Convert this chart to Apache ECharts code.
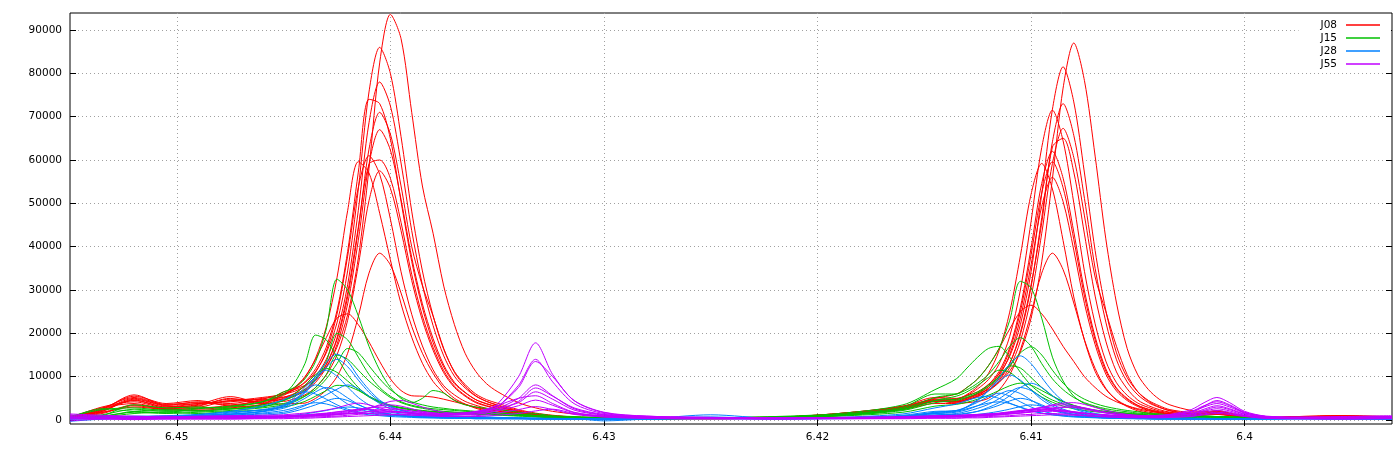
<!DOCTYPE html>
<html><head><meta charset="utf-8">
<script src="https://cdn.jsdelivr.net/npm/echarts@6/dist/echarts.min.js"></script>
<style>html,body{margin:0;padding:0;background:#fff}#c{width:1400px;height:450px}</style>
</head><body><div id="c"></div>
<script>
// shared chemical-shift grid (ppm), left to right as drawn
const ppm = [6.4550, 6.4535, 6.4520, 6.4505, 6.4490, 6.4475, 6.4460,
  6.4450, 6.4445, 6.4440, 6.4435, 6.4430, 6.4425, 6.4420, 6.4415, 6.4410, 6.4405, 6.4400, 6.4395, 6.4390, 6.4385, 6.4380, 6.4375, 6.4370, 6.4365, 6.4360, 6.4355, 6.4350,
  6.4340, 6.4332, 6.4324, 6.4314, 6.4300, 6.4280, 6.4250, 6.4220, 6.4190, 6.4160, 6.4145,
  6.4135, 6.4130, 6.4125, 6.4120, 6.4115, 6.4110, 6.4105, 6.4100, 6.4095, 6.4090, 6.4085, 6.4080, 6.4075, 6.4070, 6.4065, 6.4060, 6.4055, 6.4050, 6.4045, 6.4040, 6.4035,
  6.4025, 6.4019, 6.4013, 6.4007, 6.4000, 6.3990, 6.3975, 6.3955, 6.3931];
const xTicks = [6.40, 6.41, 6.42, 6.43, 6.44, 6.45];
const yTicks = [0, 10000, 20000, 30000, 40000, 50000, 60000, 70000, 80000, 90000];
const legendNames = ['J08', 'J15', 'J28', 'J55'];

// J08 (red)
const J08_1 = [600,2500,5500,3800,4500,3200,4800,
  6100,7000,8000,9400,12200,16800,24300,37400,58000,82400,93600,88000,71000,54000,43100,30900,22000,15400,11200,8400,6600,
  4000,2800,2000,1400,900,600,400,500,1300,2600,4300,
  4800,5200,6100,7000,8700,11300,15700,23500,36500,55700,76600,87000,78300,60900,41800,27000,16500,10400,7000,4800,3500,
  2200,2000,2000,1500,900,600,800,1000,700];
const J08_2 = [800,2000,4800,3200,3000,4500,4200,
  6500,7300,8600,11200,15500,22400,34400,53300,75700,86000,80000,65400,48200,34400,24100,16300,11200,8200,6000,4700,3900,
  2400,1600,1100,700,500,300,400,600,1400,3000,4800,
  4900,5700,6500,8200,10600,14700,22000,34200,52200,71700,81500,73400,57000,39100,25300,15500,9800,6500,4500,3300,2400,
  1800,1800,2200,1600,800,500,700,900,600];
const J08_3 = [500,3000,4200,2800,3600,5400,4000,
  5900,6600,7800,10100,14000,20300,31200,48400,68600,78000,72500,59300,43700,31200,21800,14800,10100,7400,5500,4300,3500,
  2200,1400,1000,700,500,300,500,700,1200,2800,4500,
  4400,5100,5800,7300,9500,13100,19700,30700,46700,64200,73000,65700,51100,35000,22600,13900,8800,5800,4000,2900,2200,
  1500,1600,1900,1500,700,500,600,800,700];
const J08_4 = [700,1500,3500,2600,2500,3000,3600,
  6100,7000,8800,11800,16800,25200,38900,57200,74000,73000,64900,50400,36600,25900,17900,12200,8400,6300,4700,3800,3100,
  2000,1300,900,600,400,300,400,600,1500,3200,5200,
  5000,5700,7200,9300,12900,19300,30000,45800,62900,71500,64400,50100,34300,22200,13600,8600,5700,3900,2900,2100,1700,
  1300,1500,1700,1300,800,600,800,1000,800];
const J08_5 = [400,2200,5000,3400,4200,3800,5000,
  5300,6000,7100,9200,12800,18500,28400,44000,62500,71000,66000,54000,40000,31000,24000,16500,11000,7800,5600,4300,3400,
  2000,1300,800,600,400,300,300,500,1300,2700,4300,
  4200,4700,5400,6700,8700,12100,18200,28300,43100,59200,67300,60600,47100,33000,25000,17000,10500,6500,4300,3000,2100,
  1400,1500,1600,1200,700,400,600,800,600];
const J08_6 = [900,1800,3000,2400,2200,2800,3500,
  5000,5700,6700,8700,12100,17400,26800,41500,59000,67000,62300,50900,37500,26800,18800,12700,8700,6400,4700,3700,3000,
  1900,1200,800,500,400,300,400,600,1500,3000,4600,
  4100,4700,5500,6800,9100,13000,20200,31200,45500,63000,65000,57200,42900,28600,18200,11100,7200,4600,3300,2400,1800,
  1300,1400,1600,1300,800,500,700,900,700];
const J08_7 = [500,2700,5200,3600,4000,3500,4500,
  5200,6100,7900,11000,15900,24400,37800,53700,61000,56700,46400,34200,24400,17100,11600,7900,5800,4300,3400,2700,2300,
  1500,1000,700,500,300,300,400,500,1300,2800,4600,
  4700,5900,7700,10700,16000,24900,37900,52100,59200,53300,41400,28400,18400,11200,7100,4700,3300,2400,1800,1500,1300,
  1100,1300,1500,1200,600,500,600,700,600];
const J08_8 = [700,2300,4500,3000,3400,4800,4600,
  4800,5500,6700,9200,12800,18900,29300,44500,59000,60000,55800,45600,33600,24000,16800,11400,7800,5700,4200,3300,2700,
  1700,1100,700,500,400,300,300,500,1200,2600,4400,
  4200,4800,6000,7700,10700,16100,25000,38100,52400,59600,53600,41700,28600,18500,11300,7200,4800,3300,2400,1800,1400,
  1200,1400,1700,1400,700,500,700,900,600];
const J08_9 = [600,2800,3800,2600,3200,5000,3800,
  5700,7200,9800,14300,21500,32800,48300,59600,57000,47700,37000,26800,19100,13100,8900,6300,4600,3600,2900,2400,2100,
  1400,900,600,400,300,300,300,500,1200,2700,4500,
  4300,5000,6200,8100,11200,16700,26000,39700,54600,62000,55800,43400,29800,19200,11800,7400,5000,3400,2500,1900,1500,
  1100,1300,1400,1100,600,500,600,800,600];
const J08_10 = [400,2000,4600,3000,3800,4200,4800,
  4300,4900,5800,7500,10400,15000,23000,35700,50600,57500,53500,43700,32200,23000,16100,10900,7500,5500,4000,3200,2600,
  1600,1000,700,500,400,300,400,500,1400,2800,4500,
  3900,4500,5600,7300,10100,15100,23500,35800,49300,56000,50400,39200,26900,17400,10600,6700,4500,3100,2200,1700,1300,
  1100,1300,1500,1200,700,500,600,800,600];
const J08_11 = [500,1700,3300,2500,2700,3300,3800,
  3700,3800,3900,5000,6900,10000,15400,23900,33900,38500,35800,29300,21600,15400,10800,7300,5000,3700,2700,2100,1700,
  1200,800,600,400,300,300,300,500,1100,2400,3800,
  3800,4000,4300,5000,6900,10400,16200,24600,33900,38500,34700,27000,18500,11900,7300,4600,3100,2100,1500,1200,1000,
  900,1100,1300,1000,600,400,600,700,500];
const J08_12 = [600,2400,5800,3400,3800,4400,5200,
  6000,7500,10000,14000,19000,23500,24500,22000,18000,13500,9500,6800,5600,5500,5300,4800,4200,3600,3000,2500,2100,
  1400,900,600,400,300,300,400,600,1500,3200,5000,
  6000,7500,9500,12500,16500,21000,25000,26500,24500,21000,17000,13500,10000,7500,5500,4200,3300,2600,2100,1700,1400,
  1100,1200,1300,1100,700,500,700,900,600];

// J15 (green)
const J15_1 = [800,2400,2800,2200,2800,3000,4200,
  6500,7500,9500,13500,21000,32500,30000,24000,17000,11500,7500,5000,4000,5000,6800,6200,4500,3500,3000,2700,2500,
  1800,1500,1000,800,600,400,500,700,1300,3000,6000,
  6000,7500,9500,12500,16500,23000,32000,30500,23500,14500,9000,5500,3800,3000,2300,1800,1500,1300,1100,1000,900,
  800,800,800,700,600,500,500,600,500];
const J15_2 = [500,1200,2500,2000,2200,2500,3500,
  4500,5500,7000,9500,13500,20000,18500,14500,10500,7500,5500,4200,3400,2900,2600,2400,2200,2000,1900,1800,1700,
  1400,1100,800,600,500,400,400,600,1100,2700,5200,
  6000,7000,8500,10500,13500,17000,19000,17000,13000,9500,7000,5200,4000,3200,2600,2200,1900,1600,1400,1200,1100,
  900,900,800,700,600,500,500,600,500];
const J15_3 = [600,2600,2000,1800,2600,3200,4200,
  6000,8500,13000,19600,18500,14500,10500,7500,5500,4200,3400,2900,2500,2200,2000,1900,1800,1700,1600,1500,1400,
  1200,1000,800,600,500,400,500,800,1500,3500,7000,
  9500,12000,14500,16500,17000,14500,11000,8000,6000,4600,3700,3000,2600,2300,2000,1800,1600,1400,1200,1100,1000,
  900,800,800,700,600,500,600,500,500];
const J15_4 = [400,1000,3500,2800,3000,2600,3200,
  3800,4500,5500,7000,9500,13000,16500,15500,12500,9500,7000,5300,4200,3500,3000,2700,2400,2200,2000,1800,1700,
  1300,1000,700,500,400,300,400,500,1000,2400,4500,
  4800,5500,6500,8000,10000,12500,15500,16900,15000,11500,8500,6300,4800,3800,3100,2600,2200,1900,1600,1400,1200,
  900,900,800,700,600,500,500,600,500];
const J15_5 = [500,900,2000,2400,2000,2600,3000,
  4500,6000,8000,10500,11900,11000,9000,7000,5300,4000,3200,2700,2300,2000,1800,1700,1600,1500,1400,1300,1200,
  1000,800,600,500,400,300,500,700,1200,2500,4500,
  5500,6500,8000,9800,11500,11000,9000,7000,5300,4100,3200,2600,2200,1900,1700,1500,1300,1200,1000,900,800,
  700,700,600,500,400,500,500,500,400];
const J15_6 = [300,800,1800,1500,1800,2200,2800,
  3500,4200,5500,7500,10500,15000,14000,11500,9000,7000,5200,4000,3200,2700,2300,2000,1800,1600,1500,1400,1300,
  1100,900,700,500,400,300,400,600,1000,2200,4000,
  4500,5200,6200,7700,9800,12500,12000,9800,7500,5600,4200,3300,2700,2200,1900,1600,1400,1200,1000,900,800,
  700,700,600,500,400,500,500,500,400];
const J15_7 = [400,700,1500,1800,1500,2000,2300,
  3000,3500,4300,5500,6800,8000,7800,6800,5500,4300,3400,2800,2400,2100,1900,1700,1500,1400,1300,1200,1100,
  900,700,500,400,300,300,400,500,900,1800,3200,
  3600,4100,4800,5700,6800,7900,8500,8000,6800,5500,4300,3400,2700,2200,1800,1500,1300,1100,900,800,700,
  600,600,500,500,400,400,500,500,400];

// J28 (blue)
const J28_1 = [300,600,800,900,1100,1400,2000,
  3300,4700,6800,10000,13300,15200,13500,10000,7000,4600,3200,2300,1700,1400,1200,1000,900,800,700,600,600,
  500,400,300,300,300,400,700,300,400,900,1800,
  2200,3000,4500,6700,9700,12900,14800,13000,9800,6700,4400,3000,2100,1500,1200,900,700,600,500,500,400,
  400,400,300,300,300,300,400,300,400];
const J28_2 = [500,700,600,800,1000,1600,2300,
  3000,4300,6300,9200,12200,14000,12300,9200,6400,4300,3000,2200,1700,1400,1200,1000,900,800,700,700,600,
  500,400,400,300,300,300,500,400,500,1100,2000,
  2100,3100,4700,6800,9000,10400,9200,6900,4700,3200,2200,1600,1200,1000,800,700,600,500,500,400,400,
  400,300,300,300,300,300,400,300,300];
const J28_3 = [400,500,900,700,1200,1800,2400,
  3500,5200,7500,10000,11500,10100,7600,5200,3500,2500,1800,1400,1200,1000,900,800,700,600,600,500,500,
  400,400,300,300,200,300,400,300,500,900,1500,
  1200,1500,2000,2900,4000,5600,7500,8500,7500,5600,3800,2600,1800,1300,1000,800,700,600,500,400,400,
  300,300,300,300,200,300,400,300,300];
const J28_4 = [300,400,600,800,900,1300,2000,
  3200,4500,6400,8100,7200,5400,3700,2600,1900,1500,1200,1000,900,800,700,600,600,500,500,400,400,
  400,300,300,200,200,300,1200,400,400,900,1700,
  2200,3000,4100,5400,6200,5500,4200,3000,2100,1500,1100,900,700,600,500,500,400,400,300,300,300,
  300,200,200,300,300,300,300,400,300];
const J28_5 = [200,400,500,600,700,1000,1400,
  1800,2400,3300,4500,5800,7100,8100,7200,5500,3800,2600,1900,1500,1200,1000,900,800,700,600,600,500,
  400,400,300,300,300,300,400,400,500,800,1200,
  1500,2000,2700,3600,4900,6500,7500,6800,5200,3600,2500,1800,1300,1000,800,700,600,500,400,400,300,
  300,300,300,200,300,300,400,300,300];
const J28_6 = [500,600,800,1000,1300,2000,3200,
  4700,5800,6500,6000,4800,3500,2500,1900,1500,1200,1000,900,800,700,600,600,500,500,400,400,400,
  300,300,300,200,300,300,500,300,600,1400,2800,
  3700,4500,5200,5500,5000,3900,2900,2100,1600,1200,1000,800,700,600,500,400,400,300,300,300,300,
  300,300,300,200,200,300,300,300,200];
const J28_7 = [300,500,700,700,900,1300,1900,
  2700,3700,5000,6500,7500,6700,5100,3600,2500,1800,1400,1100,900,800,700,600,600,500,500,400,400,
  400,300,300,300,300,300,600,300,500,900,1500,
  1800,2400,3300,4500,5900,6800,6100,4600,3200,2200,1600,1200,900,700,600,500,400,400,300,300,300,
  300,300,300,300,200,300,300,300,300];
const J28_8 = [200,300,400,500,600,800,1100,
  1500,2000,2700,3500,4400,5000,4500,3500,2500,1800,1300,1000,800,700,600,500,500,400,400,400,300,
  300,300,200,200,200,300,400,300,400,700,1100,
  1300,1600,2000,2600,3400,4400,5000,4500,3500,2500,1800,1300,1000,800,600,500,400,400,300,300,300,
  200,300,200,200,200,300,300,200,200];
const J28_9 = [400,300,500,600,800,1100,1600,
  2200,2800,3500,4000,3700,3000,2200,1600,1200,1000,800,700,600,500,500,400,400,400,300,300,300,
  300,200,200,300,-200,200,300,300,400,800,1500,
  2000,2600,3300,3900,4200,3800,3000,2200,1600,1200,900,700,600,500,400,400,300,300,300,200,200,
  200,200,200,200,300,200,300,200,200];
const J28_10 = [-300,200,300,300,400,500,700,
  900,1100,1400,1800,2200,2700,3000,2800,2300,1700,1300,1000,800,600,500,500,400,400,300,300,300,
  300,200,200,200,200,200,300,200,300,500,800,
  900,1100,1300,1600,2000,2500,3100,3500,3200,2500,1800,1300,900,700,500,400,400,300,300,200,200,
  200,200,200,200,200,200,300,200,200];

// J55 (purple)
const J55_1 = [1000,700,500,600,800,600,700,
  800,900,1000,1200,1400,1600,1900,2300,2800,3300,3500,3200,2600,2000,1700,1500,1500,1600,1900,2500,3600,
  10000,17800,10500,4500,1700,900,600,500,600,800,1000,
  1100,1200,1300,1400,1500,1700,1900,2200,2500,2800,3000,2900,2500,2000,1600,1300,1100,1000,1000,1100,1300,
  2400,4000,5200,4000,2000,900,700,800,1000];
const J55_2 = [600,500,700,900,600,500,600,
  700,800,900,1000,1200,1400,1700,2100,2700,3500,4300,4500,3900,3000,2300,1800,1600,1600,1800,2300,3000,
  8000,14000,8800,3800,1500,800,500,400,500,700,900,
  1000,1100,1200,1300,1500,1700,2000,2400,2900,3500,3900,4000,3600,2900,2200,1700,1300,1100,1000,1000,1200,
  2000,3300,4200,3300,1700,800,600,700,800];
const J55_3 = [1200,900,700,500,700,900,800,
  900,1000,1100,1300,1500,1800,2100,2400,2500,2300,2000,1700,1500,1300,1200,1200,1300,1400,1700,2200,3000,
  7500,13500,10000,4500,1800,900,600,500,600,700,900,
  1000,1100,1200,1400,1600,1900,2200,2400,2500,2400,2100,1800,1500,1300,1200,1100,1000,900,900,1000,1200,
  1800,3000,3800,3000,1600,800,600,600,700];
const J55_4 = [500,400,600,700,500,700,900,
  1000,1100,1200,1400,1600,1900,2200,2500,2800,3000,2800,2400,2000,1700,1500,1400,1400,1500,1700,2000,2600,
  5000,8100,5600,2600,1200,700,500,400,500,600,800,
  900,1000,1100,1300,1500,1800,2100,2500,2900,3300,3500,3300,2800,2200,1700,1300,1100,1000,900,900,1000,
  1500,2500,3300,2600,1400,700,500,600,700];
const J55_5 = [800,600,400,500,700,800,600,
  700,800,900,1000,1100,1300,1500,1700,1900,2000,2000,1900,1700,1500,1300,1200,1200,1300,1400,1700,2200,
  4300,7400,5500,2800,1300,700,500,400,500,600,700,
  800,900,1000,1100,1200,1400,1600,1800,2000,2000,1900,1700,1500,1300,1100,1000,900,900,900,900,1000,
  1400,2200,3000,2400,1300,700,500,500,600];
const J55_6 = [1400,1100,900,700,900,1000,1100,
  1200,1400,1600,1900,2300,2800,3500,3900,3500,2800,2200,1800,1600,1500,1400,1400,1500,1700,2000,2500,3300,
  5000,5600,3800,1800,900,600,400,400,400,600,700,
  800,900,1000,1200,1400,1700,2100,2500,2800,2700,2300,1900,1600,1300,1100,1000,900,800,800,900,1000,
  1300,2000,2600,2100,1100,600,500,500,600];
const J55_7 = [300,400,300,400,500,400,500,
  600,700,800,900,1000,1200,1400,1700,2000,2300,2500,2400,2100,1800,1500,1300,1200,1200,1300,1600,2100,
  3300,4600,3400,1700,900,500,400,300,400,500,600,
  700,800,900,1000,1200,1400,1600,1900,2100,2200,2100,1900,1600,1300,1100,900,800,700,700,700,800,
  1100,1700,2200,1800,1000,500,400,400,500];
const J55_8 = [200,300,200,300,300,300,400,
  500,500,600,700,800,900,1100,1300,1500,1700,1800,1700,1500,1300,1100,1000,900,900,1000,1200,1600,
  2400,3100,2400,1300,700,400,300,300,300,400,500,
  500,600,700,800,900,1000,1200,1300,1500,1500,1400,1300,1100,900,800,700,600,600,600,600,700,
  900,1400,1800,1500,900,400,300,300,400];
const J55_9 = [700,500,600,400,500,600,800,
  900,1000,1100,1200,1300,1400,1500,1500,1500,1400,1300,1300,1200,1200,1200,1300,1400,1500,1700,2000,2600,
  4000,6500,4800,2300,1100,600,400,400,500,600,700,
  800,900,1000,1100,1300,1500,1700,2000,2300,2600,2900,3000,2800,2300,1800,1400,1200,1000,900,900,1100,
  1900,3200,4500,3500,1800,800,500,600,700];
const J55_10 = [-200,200,100,200,200,200,300,
  300,400,400,500,600,700,800,900,1000,1100,1200,1200,1100,1000,900,800,800,800,800,900,1100,
  1500,2100,2500,1500,700,400,300,200,300,300,400,
  400,500,500,600,700,800,900,1000,1100,1200,1200,1100,1000,800,700,600,500,500,500,500,600,
  800,1200,1500,1300,800,400,300,200,300];

const groups = [
  { name: 'J08', color: '#ff0000', lines: [J08_1, J08_2, J08_3, J08_4, J08_5, J08_6, J08_7, J08_8, J08_9, J08_10, J08_11, J08_12] },
  { name: 'J15', color: '#00c000', lines: [J15_1, J15_2, J15_3, J15_4, J15_5, J15_6, J15_7] },
  { name: 'J28', color: '#0080ff', lines: [J28_1, J28_2, J28_3, J28_4, J28_5, J28_6, J28_7, J28_8, J28_9, J28_10] },
  { name: 'J55', color: '#c000ff', lines: [J55_1, J55_2, J55_3, J55_4, J55_5, J55_6, J55_7, J55_8, J55_9, J55_10] }
];

const FONT = 'DejaVu Sans';
const series = [];
groups.forEach(g => g.lines.forEach((arr, k) => {
  if (arr.length !== ppm.length) console.error(g.name + ' line ' + (k + 1) + ' has ' + arr.length + ' values');
  series.push({
    name: g.name, type: 'line', data: ppm.map((x, i) => [x, arr[i]]),
    symbol: 'none', showSymbol: false, smooth: 0.3, animation: false, silent: true,
    lineStyle: { color: g.color, width: 1 }, itemStyle: { color: g.color }
  });
}));

const chart = echarts.init(document.getElementById('c'), null, { renderer: 'canvas' });
const gridLine = { show: true, lineStyle: { color: '#a0a0a0', type: [1, 3], width: 1 } };
const tickStyle = { color: '#000', width: 1 };
chart.setOption({
  animation: false,
  backgroundColor: '#fff',
  grid: { left: 70, right: 8, top: 13, bottom: 26, show: true, borderColor: '#000', borderWidth: 1, backgroundColor: 'transparent' },
  xAxis: [
    { type: 'value', position: 'bottom', inverse: true, min: 6.3931, max: 6.4550,
      axisLine: { show: false },
      axisTick: { show: true, inside: true, length: 6, customValues: xTicks, lineStyle: tickStyle },
      axisLabel: { customValues: xTicks, formatter: v => String(Number(v.toFixed(2))), color: '#000', fontFamily: FONT, fontSize: 10.5, margin: 8 },
      splitLine: gridLine },
    { type: 'value', position: 'top', inverse: true, min: 6.3931, max: 6.4550,
      axisLine: { show: false },
      axisTick: { show: true, inside: true, length: 6, customValues: xTicks, lineStyle: tickStyle },
      axisLabel: { show: false }, splitLine: { show: false } }
  ],
  yAxis: [
    { type: 'value', position: 'left', min: -920, max: 93920,
      axisLine: { show: false },
      axisTick: { show: true, inside: true, length: 6, customValues: yTicks, lineStyle: tickStyle },
      axisLabel: { customValues: yTicks, formatter: v => String(Math.round(v)), color: '#000', fontFamily: FONT, fontSize: 10.5, margin: 8 },
      splitLine: gridLine },
    { type: 'value', position: 'right', min: -920, max: 93920,
      axisLine: { show: false },
      axisTick: { show: true, inside: true, length: 6, customValues: yTicks, lineStyle: tickStyle },
      axisLabel: { show: false }, splitLine: { show: false } }
  ],
  legend: {
    data: legendNames, orient: 'vertical', right: 9, top: 16, align: 'right',
    icon: 'rect', itemWidth: 34, itemHeight: 1.5, itemGap: 1, selectedMode: false,
    backgroundColor: '#fff', padding: [3, 11, 3, 22],
    textStyle: { fontFamily: FONT, fontSize: 10.5, color: '#000', lineHeight: 12, padding: [0, 4, 0, 0] }
  },
  series: series
});
</script>
</body></html>
